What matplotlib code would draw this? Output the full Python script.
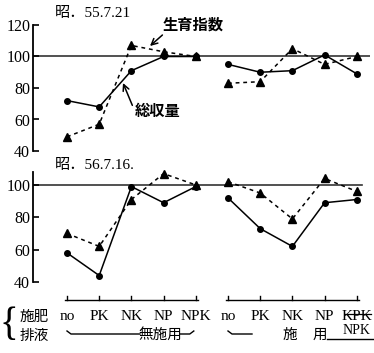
import matplotlib
matplotlib.use("Agg")
import matplotlib.pyplot as plt

plt.rcParams['font.family'] = ['Liberation Serif', 'Noto Sans CJK JP']

# Data ------------------------------------------------------------------------
treatments = ["no", "PK", "NK", "NP", "NPK"]
x_group1 = [0, 1, 2, 3, 4]
x_group2 = [5, 6, 7, 8, 9]
top_labels2 = ["no", "PK", "NK", "NP", "KPK"]

# 昭.55.7.21
top_total_1 = [72, 68, 91, 100, 100]
top_total_2 = [95, 90, 91, 101, 89]
top_growth_1 = [49, 57, 107, 103, 100]
top_growth_2 = [83, 84, 105, 95, 100]

# 昭.56.7.16
bot_total_1 = [58, 44, 99, 89, 99]
bot_total_2 = [92, 73, 62, 89, 91]
bot_growth_1 = [70, 62, 91, 107, 100]
bot_growth_2 = [102, 95, 79, 104, 96]

W, H = 374, 353
fig = plt.figure(figsize=(W / 100, H / 100), dpi=100)

def frac_rect(left, top, right, bottom):
    return [left / W, (H - bottom) / H, (right - left) / W, (bottom - top) / H]

xlim = (-(67 - 33) / 32.2, (370 - 67) / 32.2)

def style_axis(ax, ylim, yticks, line_end):
    ax.set_xlim(*xlim)
    ax.set_ylim(*ylim)
    ax.set_yticks(yticks)
    ax.set_xticks([])
    for s in ["top", "right", "bottom"]:
        ax.spines[s].set_visible(False)
    ax.spines["left"].set_linewidth(1.3)
    ax.tick_params(axis="y", direction="in", length=4, width=1.2, labelsize=11.5, pad=2)
    ax.axhline(100, xmin=0, xmax=line_end, color="#333333", lw=1.2, zorder=1)
    ax.patch.set_alpha(0)

def draw_series(ax, total_1, total_2, growth_1, growth_2):
    for xs, ys in [(x_group1, total_1), (x_group2, total_2)]:
        ax.plot(xs, ys, color="black", lw=1.1, marker="o", markersize=4,
                clip_on=False, zorder=3)
    for xs, ys in [(x_group1, growth_1), (x_group2, growth_2)]:
        ax.plot(xs, ys, color="black", lw=1.1, ls=(0, (2.5, 2.5)), marker="^",
                markersize=6, clip_on=False, zorder=3)

ax1 = fig.add_axes(frac_rect(33, 25, 370, 151))
style_axis(ax1, (40, 120), [40, 60, 80, 100, 120], 1.0)
draw_series(ax1, top_total_1, top_total_2, top_growth_1, top_growth_2)

ax2 = fig.add_axes(frac_rect(33, 172, 370, 282))
style_axis(ax2, (40, 108), [40, 60, 80, 100], (362 - 33) / 337)
draw_series(ax2, bot_total_1, bot_total_2, bot_growth_1, bot_growth_2)

# Titles and callouts (figure pixels, y from top)
def px(x, y):
    return (x, H - y)

fig.text(55 / W, 1 - 14 / H, "昭．55.7.21", fontsize=11, va="center", ha="left")
fig.text(55 / W, 1 - 166 / H, "昭．56.7.16.", fontsize=11, va="center", ha="left")
ax1.annotate("生育指数", xy=px(150, 46), xycoords="figure pixels",
             xytext=px(193, 25), textcoords="figure pixels",
             fontsize=11, fontweight="bold", ha="center", va="center",
             arrowprops=dict(arrowstyle="->", color="black", lw=1.1,
                             shrinkA=0, shrinkB=0,
                             connectionstyle="arc3", relpos=(0.05, 0.0)))
ax1.annotate("総収量", xy=px(123, 83), xycoords="figure pixels",
             xytext=px(158, 112), textcoords="figure pixels",
             fontsize=11, fontweight="bold", ha="center", va="center",
             arrowprops=dict(arrowstyle="->", color="black", lw=1.1,
                             shrinkA=0, shrinkB=0, relpos=(0.0, 0.5)))

# Treatment labels below the charts
ax3 = fig.add_axes([0, 0, 1, 1])
ax3.set_xlim(0, W)
ax3.set_ylim(H, 0)
ax3.axis("off")
ax3.patch.set_alpha(0)

def data_to_px(x):
    return 33 + (x - xlim[0]) * 32.2

for xs, labels in [(x_group1, treatments), (x_group2, top_labels2)]:
    pxs = [data_to_px(x) for x in xs]
    ax3.plot([pxs[0] - 2, pxs[-1] + 2], [300, 300], color="black", lw=1.0)
    for p in pxs:
        ax3.plot([p, p], [300, 296], color="black", lw=1.0)
    for p, lab in zip(pxs, labels):
        ax3.text(p, 316, lab, fontsize=11, ha="center", va="center")

# strike over KPK and NPK beneath
p_last = data_to_px(x_group2[-1])
ax3.plot([p_last - 12, p_last + 14], [314, 314], color="black", lw=0.9)
ax3.text(p_last, 330, "NPK", fontsize=10, ha="center", va="center")
ax3.plot([p_last - 30, p_last + 16], [339, 339], color="black", lw=1.0)

ax3.text(9, 326, "{", fontsize=28, ha="center", va="center")
ax3.text(34, 317, "施肥", fontsize=10.5, ha="center", va="center")
ax3.text(34, 336, "排液", fontsize=10.5, ha="center", va="center")

# 無施用 / 施用 group captions
g1 = [data_to_px(x) for x in x_group1]
g2 = [data_to_px(x) for x in x_group2]
ax3.plot([g1[0], g1[0] + 4, 140], [331, 334, 334], color="black", lw=1.0)
ax3.text(160, 335, "無施用", fontsize=10.5, ha="center", va="center")
ax3.plot([180, g1[-1] - 6, g1[-1] - 2], [334, 334, 331], color="black", lw=1.0)
ax3.plot([g2[0], g2[0] + 4, 252], [331, 334, 334], color="black", lw=1.0)
ax3.text(290, 335, "施", fontsize=10.5, ha="center", va="center")
ax3.text(320, 335, "用", fontsize=10.5, ha="center", va="center")

fig.savefig("out.png", dpi=100)
